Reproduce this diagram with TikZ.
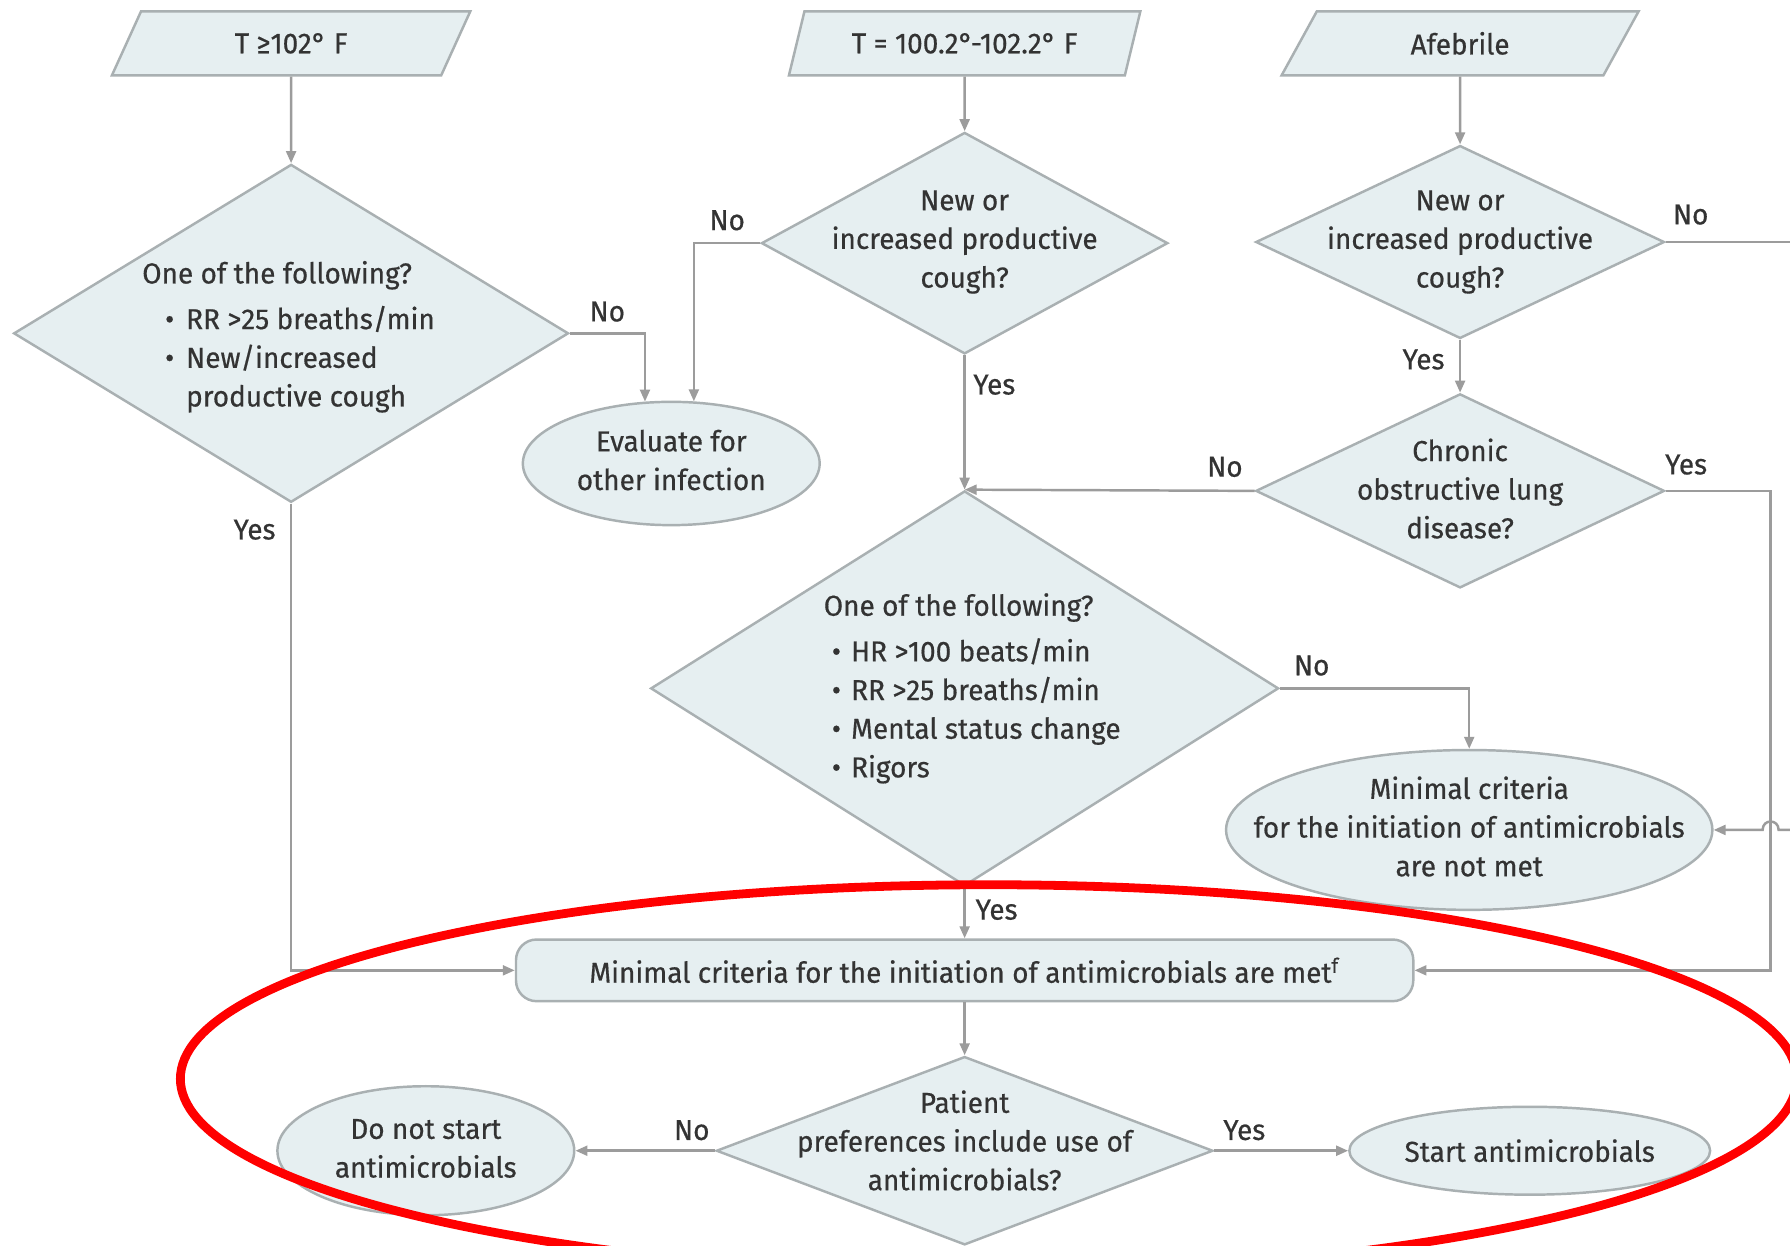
\documentclass[tikz,border=0pt]{standalone}
\usepackage{fontspec}
\setmainfont{Fira Sans}[FakeStretch=0.97,FakeBold=0.5]
\usetikzlibrary{shapes.geometric,arrows.meta}
\definecolor{boxfill}{HTML}{E6EFF1}
\definecolor{boxline}{HTML}{A9B0B2}
\definecolor{wire}{HTML}{9C9C9C}
\definecolor{ink}{HTML}{333333}
\def\u{0.3248pt}
\begin{document}
\begin{tikzpicture}[x=0.3248pt,y=-0.3248pt,
  font=\fontsize{8.2}{11}\selectfont, text=ink,
  shapebase/.style={draw=boxline, fill=boxfill, line width=0.7pt, inner sep=0pt},
  decision/.style={shapebase, diamond},
  inputbox/.style={shapebase, trapezium, trapezium left angle=62, trapezium right angle=118,
    trapezium stretches=true, minimum height=56*\u},
  outcome/.style={shapebase, ellipse},
  flow/.style={draw=wire, line width=0.7pt, -{Triangle[length=3.4pt,width=2.8pt]}},
  plain/.style={draw=wire, line width=0.7pt},
  tag/.style={inner sep=0pt},
  qtext/.style={align=center, inner sep=0pt},
  ltext/.style={align=left, inner sep=0pt, anchor=west}]
\useasboundingbox (0,0) rectangle (1568,1091);
\fill[white] (0,0) rectangle (1568,1091);
\clip (0,0) rectangle (1568,1091);

% temperature entry points
\node[inputbox, minimum width=314*\u] (p1) at (255,38) {T ≥102° F};
\node[inputbox, minimum width=310*\u] (p2) at (845,38) {T = 100.2°-102.2° F};
\node[inputbox, minimum width=313*\u] (p3) at (1279,38) {Afebrile};

% decisions
\node[decision, minimum width=486*\u, minimum height=296*\u] (d1) at (255,292) {};
\node[ltext] (d1t) at (124,295) {One of the following?\\[2pt]
  \hspace*{6.5pt}\makebox[6pt][l]{\textbullet}RR >25 breaths/min\\
  \hspace*{6.5pt}\makebox[6pt][l]{\textbullet}New/increased\\
  \hspace*{12.5pt}productive cough};

\node[decision, minimum width=356*\u, minimum height=194*\u] (d2) at (845,213) {};
\node[qtext] (d2t) at (845,212) {New or\\increased productive\\cough?};

\node[decision, minimum width=358*\u, minimum height=169*\u] (d4) at (1279,212) {};
\node[qtext] (d4t) at (1279,212) {New or\\increased productive\\cough?};

\node[decision, minimum width=358*\u, minimum height=170*\u] (d5) at (1279,430) {};
\node[qtext] (d5t) at (1279,428) {Chronic\\obstructive lung\\disease?};

\node[decision, minimum width=550*\u, minimum height=346*\u] (d3) at (845,603) {};
\node[ltext] (d3t) at (721,603) {One of the following?\\[2pt]
  \hspace*{2.3pt}\makebox[5.5pt][l]{\textbullet}HR >100 beats/min\\
  \hspace*{2.3pt}\makebox[5.5pt][l]{\textbullet}RR >25 breaths/min\\
  \hspace*{2.3pt}\makebox[5.5pt][l]{\textbullet}Mental status change\\
  \hspace*{2.3pt}\makebox[5.5pt][l]{\textbullet}Rigors};

\node[decision, minimum width=435*\u, minimum height=165*\u] (d6) at (845,1008) {};
\node[qtext] (d6t) at (845,999) {Patient\\preferences include use of\\antimicrobials?};

% outcomes
\node[outcome, minimum width=260*\u, minimum height=108*\u] (e1) at (588,406) {};
\node[qtext] (e1t) at (588,403) {Evaluate for\\other infection};
\node[outcome, minimum width=426*\u, minimum height=140*\u] (e2) at (1287,727) {};
\node[qtext] (e2t) at (1287,724) {Minimal criteria\\for the initiation of antimicrobials\\are not met};
\node[shapebase, rounded corners=18*\u, minimum width=786*\u, minimum height=54*\u] (met) at (845,850)
  {Minimal criteria for the initiation of antimicrobials are met\textsuperscript{f}};
\node[outcome, minimum width=260*\u, minimum height=113*\u] (e3) at (373,1008) {};
\node[qtext] (e3t) at (373,1006) {Do not start\\antimicrobials};
\node[outcome, minimum width=316*\u, minimum height=77*\u] (e4) at (1340,1008) {};
\node[qtext] (e4t) at (1340,1008) {Start antimicrobials};

% routing points
\coordinate (yesrail) at (1551,430);
\coordinate (offtop) at (1590,212);
\coordinate (offlow) at (1590,727);
\coordinate (hopR) at (1558,727);
\coordinate (hopL) at (1544,727);

% connectors
\draw[flow] (p1.south) -- (d1.north);
\draw[flow] (p2.south) -- (d2.north);
\draw[flow] (p3.south) -- (d4.north);
\draw[flow] (d1.east) -| (e1.113);
\draw[flow] (d2.west) -| (e1.70);
\draw[flow] (d2.south) -- (d3.north);
\draw[flow] (d4.south) -- (d5.north);
\draw[flow] (d5.west) -- (d3.north);
\draw[flow] (d5.east) -- (yesrail) |- (met.east);
\draw[plain] (d4.east) -- (offtop) -- (offlow);
\draw[flow] (offlow) -- (hopR) .. controls ([yshift=3.2pt]hopR) and ([yshift=3.2pt]hopL) .. (hopL) -- (e2.east);
\draw[flow] (d3.east) -| (e2.north);
\draw[flow] (d3.south) -- (met.north);
\draw[flow] (d1.south) |- (met.west);
\draw[flow] (met.south) -- (d6.north);
\draw[flow] (d6.west) -- (e3.east);
\draw[flow] (d6.east) -- (e4.west);

% branch labels
\node[tag] (l1) at (532,273) {No};
\node[tag] (l2) at (637,193) {No};
\node[tag] (l3) at (871,337) {Yes};
\node[tag] (l4) at (1481,188) {No};
\node[tag] (l5) at (1247,315) {Yes};
\node[tag] (l6) at (1073,409) {No};
\node[tag] (l7) at (1477,407) {Yes};
\node[tag] (l8) at (1149,583) {No};
\node[tag] (l9) at (223,464) {Yes};
\node[tag] (l10) at (873,797) {Yes};
\node[tag] (l11) at (606,990) {No};
\node[tag] (l12) at (1090,990) {Yes};

% highlight ring around the final steps
\draw[red, line width=2.5pt] (866,945) ellipse [x radius=708, y radius=170];
\end{tikzpicture}
\end{document}
